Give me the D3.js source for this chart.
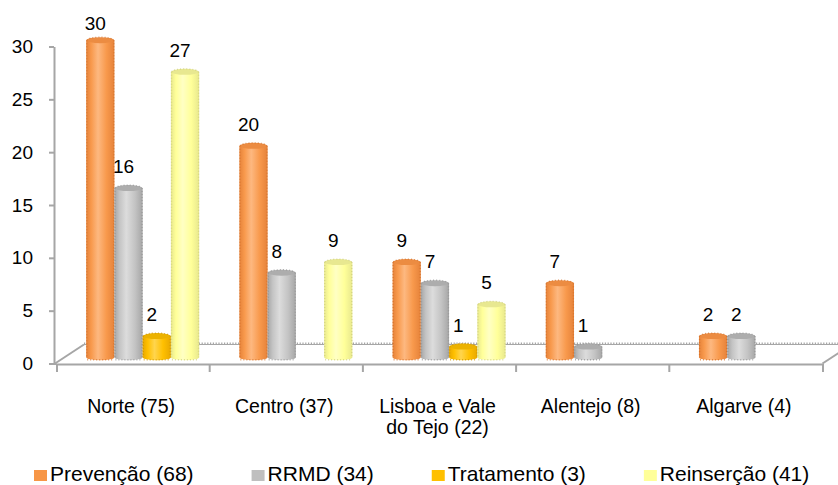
<!DOCTYPE html>
<html>
<head>
<meta charset="utf-8">
<script src="https://cdn.jsdelivr.net/npm/d3@7"></script>
<style>
  body { margin: 0; background: #fff; }
  svg { display: block; }
  text { font-family: "Liberation Sans", Arial, sans-serif; fill: #000; }
</style>
</head>
<body>
<svg id="chart" width="838" height="485"></svg>
<script>
// Regions (each label split into its display lines)
const categories = [["Norte (75)"], ["Centro (37)"], ["Lisboa e Vale", "do Tejo (22)"], ["Alentejo (8)"], ["Algarve (4)"]];
// Intervention areas
const series = ["Prevenção (68)", "RRMD (34)", "Tratamento (3)", "Reinserção (41)"];
// Counts per region for each area
const prevencao  = [30, 20, 9, 7, 2];
const rrmd       = [16, 8, 7, 1, 2];
const tratamento = [2, 0, 1, 0, 0];
const reinsercao = [27, 9, 5, 0, 0];
const yTicks = [0, 5, 10, 15, 20, 25, 30];

const seriesValues = [prevencao, rrmd, tratamento, reinsercao];
const palette = [
  { key: "#F79646", base: "#F8994C", edge: "#E5823A", light: "#FDB880", top: "#EC8C42", line: "#D06E26" },
  { key: "#BFBFBF", base: "#C4C4C4", edge: "#A6A6A6", light: "#DCDCDC", top: "#ADADAD", line: "#909090" },
  { key: "#FFC000", base: "#FFC000", edge: "#E8A800", light: "#FFD54E", top: "#ECB200", line: "#C89000" },
  { key: "#FFFF99", base: "#FFFF99", edge: "#E8E88E", light: "#FFFFC4", top: "#E8E890", line: "#CACA7C" }
];

const svg = d3.select("#chart");
const defs = svg.append("defs");

const x = d3.scaleBand().domain(d3.range(categories.length)).range([56.5, 822.5]).padding(0);
const inner = d3.scaleBand().domain(d3.range(series.length)).range([20, 133]).padding(0);
const y = d3.scaleLinear().domain([0, 30]).range([363.5, 46.5]);

// 3D floor depth and the plane the cylinders stand on (a third of the way back)
const depth = { x: 29, y: -19 };
const shift = { x: depth.x / 3, y: depth.y / 3 };
const axisColor = "#A6A6A6";

// Cylinder shading
palette.forEach((p, i) => {
  const g = defs.append("linearGradient").attr("id", "cyl" + i)
    .attr("x1", "0%").attr("x2", "100%").attr("y1", "0%").attr("y2", "0%");
  [[0, p.edge], [0.18, p.base], [0.42, p.light], [0.72, p.base], [1, p.edge]].forEach(([o, c]) =>
    g.append("stop").attr("offset", o).attr("stop-color", c));
});

// Floor: back edge, side edges
const floor = svg.append("g");
const y0 = y(0);
floor.append("line")
  .attr("x1", 55).attr("y1", y0).attr("x2", 55 + depth.x).attr("y2", y0 + depth.y)
  .attr("stroke", axisColor).attr("stroke-width", 2);
floor.append("line")
  .attr("x1", x.range()[1]).attr("y1", y0).attr("x2", x.range()[1] + depth.x).attr("y2", y0 + depth.y)
  .attr("stroke", axisColor).attr("stroke-width", 2);
floor.append("line")
  .attr("x1", 55 + depth.x).attr("y1", y0 + depth.y).attr("x2", x.range()[1] + depth.x).attr("y2", y0 + depth.y)
  .attr("stroke", axisColor).attr("stroke-width", 1.2);
floor.append("line")
  .attr("x1", 55 + depth.x).attr("y1", y0 + depth.y - 1.2).attr("x2", x.range()[1] + depth.x).attr("y2", y0 + depth.y - 1.2)
  .attr("stroke", axisColor).attr("stroke-width", 1.4).attr("stroke-dasharray", "1.2 1.6");

// Axes
const yAxis = svg.append("g").attr("transform", "translate(54,0)")
  .call(d3.axisLeft(y).tickValues(yTicks).tickSize(5).tickSizeOuter(0).tickPadding(16));
yAxis.selectAll("path, line").attr("stroke", axisColor).attr("stroke-width", 2);
yAxis.selectAll("text").attr("font-size", 19).attr("fill", "#000")
  .attr("font-family", '"Liberation Sans", Arial, sans-serif');

const xAxis = svg.append("g").attr("transform", `translate(0,${y0 + 0.5})`)
  .call(d3.axisBottom(x).tickSize(0).tickSizeOuter(8).tickFormat(""));
xAxis.select(".domain").attr("stroke", axisColor).attr("stroke-width", 2);
svg.append("line").attr("x1", 53).attr("x2", x.range()[0]).attr("y1", y0 + 0.5).attr("y2", y0 + 0.5)
  .attr("stroke", axisColor).attr("stroke-width", 2);
xAxis.selectAll(".bound").data(d3.range(1, categories.length)).join("line")
  .attr("x1", d => x(d)).attr("x2", d => x(d)).attr("y1", 0).attr("y2", 8)
  .attr("stroke", axisColor).attr("stroke-width", 2);

// Category labels
categories.forEach((lines, i) => {
  const t = svg.append("text")
    .attr("x", x(i) + x.bandwidth() / 2 - 2)
    .attr("y", 413)
    .attr("text-anchor", "middle").attr("font-size", 19.5);
  lines.forEach((ln, k) => t.append("tspan")
    .attr("x", x(i) + x.bandwidth() / 2 - 2).attr("dy", k ? 20.5 : 0).text(ln));
});

// Cylinders
const bars = svg.append("g");
const labels = svg.append("g");
const base = y(0) + shift.y;
const w = inner.bandwidth();
categories.forEach((_, ci) => {
  series.forEach((_, si) => {
    const v = seriesValues[si][ci];
    if (!v) return;
    const p = palette[si];
    const bx = x(ci) + inner(si) + shift.x;
    const top = y(v) + shift.y;
    const cx = bx + w / 2;
    const g = bars.append("g");
    g.append("ellipse").attr("cx", cx).attr("cy", base).attr("rx", w / 2).attr("ry", 3)
      .attr("fill", `url(#cyl${si})`);
    g.append("rect").attr("x", bx).attr("y", top).attr("width", w).attr("height", base - top)
      .attr("fill", `url(#cyl${si})`);
    g.append("ellipse").attr("cx", cx).attr("cy", top).attr("rx", w / 2 - 0.5).attr("ry", 3)
      .attr("fill", p.top);
    // ragged edge outline
    const edge = `M${bx + 0.6},${top} V${base} M${bx + w - 0.6},${top} V${base} M${bx + 1},${base + 2.6} H${bx + w - 1}`;
    g.append("path").attr("d", edge).attr("fill", "none")
      .attr("stroke", p.line).attr("stroke-width", 1.3).attr("stroke-dasharray", "1 2").attr("opacity", 0.7);
    g.append("path")
      .attr("d", `M${bx + 1},${top} A${w / 2 - 1},3 0 0 1 ${bx + w - 1},${top}`)
      .attr("fill", "none").attr("stroke", p.line).attr("stroke-width", 1.3)
      .attr("stroke-dasharray", "1 2").attr("opacity", 0.7);

    labels.append("text")
      .attr("x", cx - 5)
      .attr("y", Math.max(y(v) + shift.y - 15, 30))
      .attr("text-anchor", "middle").attr("font-size", 19)
      .text(v);
  });
});

// Legend
const legend = svg.append("g");
let lx = 34;
series.forEach((name, i) => {
  legend.append("rect").attr("x", lx).attr("y", 470).attr("width", 13).attr("height", 11)
    .attr("fill", palette[i].key);
  const t = legend.append("text").attr("x", lx + 16).attr("y", 481).attr("font-size", 21).text(name);
  lx += 16 + t.node().getComputedTextLength() + 58;
});
</script>
</body>
</html>
